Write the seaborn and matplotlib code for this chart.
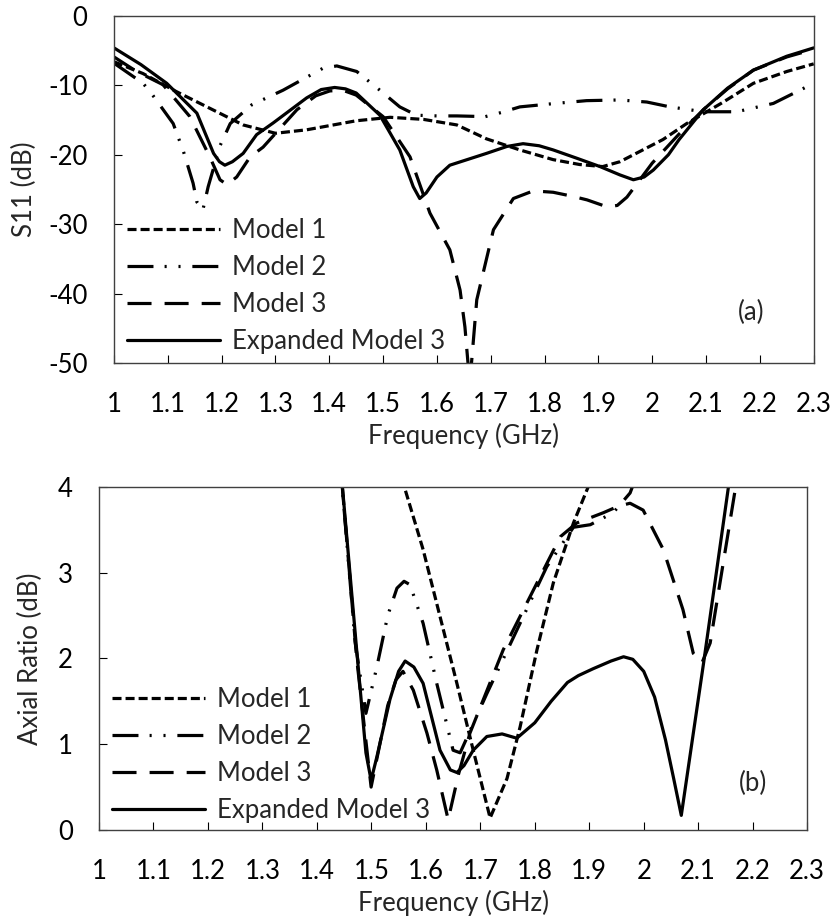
import matplotlib
matplotlib.use("Agg")
import matplotlib.pyplot as plt
import pandas as pd
import seaborn as sns

# ---- S11 data (top panel) ----
f_m1_s11 = [1.0, 1.054, 1.116, 1.178, 1.24, 1.30, 1.358, 1.45, 1.513, 1.575, 1.637, 1.692, 1.754,
            1.816, 1.865, 1.908, 1.94, 1.97, 2.02, 2.064, 2.13, 2.188, 2.25, 2.3]
s11_m1 = [-6.6, -8.3, -10.9, -13.3, -15.7, -16.9, -16.4, -15.1, -14.6, -14.9, -15.7, -17.7, -19.3,
          -20.7, -21.4, -21.7, -21.0, -19.8, -17.8, -15.5, -12.5, -9.7, -8.0, -6.9]

f_m2_s11 = [1.0, 1.054, 1.07, 1.11, 1.129, 1.147, 1.154, 1.165, 1.175, 1.197, 1.216, 1.256, 1.314,
            1.389, 1.414, 1.451, 1.494, 1.531, 1.562, 1.60, 1.637, 1.69, 1.72, 1.754, 1.82, 1.878,
            1.94, 1.99, 2.033, 2.095, 2.157, 2.225, 2.3]
s11_m2 = [-6.8, -9.7, -11.2, -15.5, -19.5, -24.1, -26.8, -28.0, -24.6, -18.7, -15.5, -12.8, -10.7,
          -7.5, -7.2, -8.0, -10.7, -13.1, -14.3, -14.4, -14.4, -14.5, -13.9, -13.1, -12.6, -12.2,
          -12.1, -12.4, -13.1, -13.8, -13.8, -12.6, -9.7]

f_m3_s11 = [1.0, 1.042, 1.091, 1.141, 1.178, 1.197, 1.21, 1.228, 1.253, 1.277, 1.34, 1.375, 1.401,
            1.425, 1.45, 1.50, 1.55, 1.587, 1.624, 1.643, 1.652, 1.661, 1.674, 1.693, 1.705, 1.742,
            1.779, 1.816, 1.853, 1.879, 1.916, 1.935, 1.953, 2.0, 2.05, 2.095, 2.14, 2.188, 2.25, 2.3]
s11_m3 = [-5.9, -8.0, -9.9, -14.5, -20.3, -23.6, -24.3, -23.2, -20.3, -18.9, -13.5, -11.5, -10.8,
          -10.7, -11.4, -14.5, -20.3, -28.4, -33.7, -39.5, -44.8, -53.0, -40.9, -34.7, -30.8, -26.3,
          -25.2, -25.4, -26.0, -26.5, -27.5, -27.3, -26.1, -21.2, -17.0, -13.5, -10.5, -7.8, -5.9, -4.8]

f_ex_s11 = [1.0, 1.05, 1.098, 1.154, 1.185, 1.196, 1.206, 1.22, 1.24, 1.265, 1.296, 1.358, 1.385,
            1.41, 1.43, 1.45, 1.494, 1.531, 1.556, 1.568, 1.58, 1.60, 1.624, 1.66, 1.692, 1.73,
            1.76, 1.79, 1.816, 1.86, 1.903, 1.94, 1.965, 1.985, 2.002, 2.03, 2.05, 2.095, 2.14,
            2.188, 2.25, 2.3]
s11_ex = [-4.6, -7.0, -9.7, -14.0, -19.8, -21.0, -21.5, -21.0, -19.8, -17.1, -15.4, -11.8, -10.6,
          -10.3, -10.5, -11.1, -14.3, -19.3, -24.6, -26.3, -25.5, -23.2, -21.5, -20.6, -19.8, -18.8,
          -18.4, -18.7, -19.3, -20.5, -21.7, -22.9, -23.6, -23.2, -22.2, -20.0, -17.8, -13.5, -10.4,
          -7.8, -5.8, -4.6]

# ---- Axial ratio data (bottom panel) ----
f_m1_ar = [1.555, 1.562, 1.595, 1.657, 1.687, 1.718, 1.749, 1.773, 1.804, 1.834, 1.871, 1.898, 1.902]
ar_m1 = [4.1, 3.97, 3.27, 1.71, 0.93, 0.14, 0.6, 1.2, 2.1, 2.88, 3.58, 4.0, 4.1]

f_m2_ar = [1.44, 1.47, 1.49, 1.51, 1.53, 1.547, 1.56, 1.571, 1.595, 1.62, 1.65, 1.663, 1.712, 1.773,
           1.822, 1.871, 1.902, 1.944, 1.975, 1.985]
ar_m2 = [4.5, 2.2, 1.36, 1.9, 2.5, 2.82, 2.9, 2.86, 2.41, 1.71, 0.93, 0.9, 1.59, 2.41,
         3.07, 3.53, 3.56, 3.7, 3.93, 4.1]

f_m3_ar = [1.44, 1.473, 1.4995, 1.53, 1.545, 1.558, 1.577, 1.602, 1.62, 1.641, 1.66, 1.681, 1.742,
           1.804, 1.847, 1.877, 1.926, 1.955, 1.975, 1.999, 2.036, 2.072, 2.091, 2.107, 2.122, 2.14,
           2.168, 2.175]
ar_m3 = [4.5, 2.0, 0.5, 1.45, 1.75, 1.85, 1.63, 1.13, 0.7, 0.12, 0.65, 1.13, 2.1,
         2.88, 3.42, 3.58, 3.7, 3.78, 3.81, 3.73, 3.27, 2.57, 2.06, 1.95, 2.18, 2.88,
         3.97, 4.3]

f_ex_ar = [1.44, 1.473, 1.49, 1.4995, 1.51, 1.534, 1.55, 1.562, 1.578, 1.595, 1.626, 1.645, 1.657,
           1.67, 1.687, 1.712, 1.74, 1.767, 1.80, 1.83, 1.86, 1.88, 1.907, 1.94, 1.963, 1.98, 2.0,
           2.02, 2.04, 2.055, 2.069, 2.11, 2.16]
ar_ex = [4.5, 2.1, 0.9, 0.58, 0.85, 1.52, 1.85, 1.97, 1.9, 1.71, 0.93, 0.7, 0.67,
         0.75, 0.93, 1.09, 1.12, 1.07, 1.25, 1.5, 1.72, 1.8, 1.88, 1.97, 2.02, 1.99, 1.85,
         1.55, 1.05, 0.6, 0.17, 1.95, 4.2]

models = ["Model 1", "Model 2", "Model 3", "Expanded Model 3"]
x_ticks = [1.0, 1.1, 1.2, 1.3, 1.4, 1.5, 1.6, 1.7, 1.8, 1.9, 2.0, 2.1, 2.2, 2.3]
x_ticklabels = ["1", "1.1", "1.2", "1.3", "1.4", "1.5", "1.6", "1.7", "1.8", "1.9", "2", "2.1", "2.2", "2.3"]
s11_ticks = [0, -10, -20, -30, -40, -50]
s11_ticklabels = ["0", "-10", "-20", "-30", "-40", "-50"]
ar_ticks = [0, 1, 2, 3, 4]
ar_ticklabels = ["0", "1", "2", "3", "4"]


def long_df(pairs, col):
    frames = []
    for name, (f, v) in zip(models, pairs):
        frames.append(pd.DataFrame({"Frequency": f, col: v, "Model": name}))
    return pd.concat(frames, ignore_index=True)


df_s11 = long_df([(f_m1_s11, s11_m1), (f_m2_s11, s11_m2), (f_m3_s11, s11_m3), (f_ex_s11, s11_ex)], "S11")
df_ar = long_df([(f_m1_ar, ar_m1), (f_m2_ar, ar_m2), (f_m3_ar, ar_m3), (f_ex_ar, ar_ex)], "AR")

sns.set_style("white")
plt.rcParams["font.family"] = ["Lato", "DejaVu Sans"]
plt.rcParams["lines.scale_dashes"] = False
plt.rcParams["axes.unicode_minus"] = False

fs = 18.5
dash_map = {
    "Model 1": (6.5, 2.9),
    "Model 2": (18.7, 8.0, 1.5, 8.5, 1.5, 8.5),
    "Model 3": (17.3, 9.4),
    "Expanded Model 3": "",
}

fig = plt.figure(figsize=(8.35, 9.23), dpi=100)
ax1 = fig.add_axes([0.1365, 0.6067, 0.838, 0.376])
ax2 = fig.add_axes([0.1186, 0.1008, 0.848, 0.3716])

sns.lineplot(data=df_s11, x="Frequency", y="S11", style="Model", style_order=models,
             dashes=dash_map, color="black", lw=2.3, estimator=None, sort=False, ax=ax1)
sns.lineplot(data=df_ar, x="Frequency", y="AR", style="Model", style_order=models,
             dashes=dash_map, color="black", lw=2.3, estimator=None, sort=False, ax=ax2)

for ax, yt, ytl, ylim in [(ax1, s11_ticks, s11_ticklabels, (-50, 0)),
                          (ax2, ar_ticks, ar_ticklabels, (0, 4))]:
    ax.set_xlim(1.0, 2.3)
    ax.set_ylim(*ylim)
    ax.set_xticks(x_ticks, labels=x_ticklabels)
    ax.set_yticks(yt, labels=ytl)
    ax.tick_params(direction="in", length=6, width=0.8, labelsize=fs,
                   colors="black", left=True, bottom=True)
    ax.tick_params(axis="x", pad=21)
    ax.tick_params(axis="y", pad=19)
    for sp in ax.spines.values():
        sp.set_color("#404040")
        sp.set_linewidth(1.0)
    ax.set_xlabel("Frequency (GHz)", fontsize=fs)

ax1.set_ylabel("S11 (dB)", fontsize=fs)
ax2.set_ylabel("Axial Ratio (dB)", fontsize=fs)
ax1.yaxis.set_label_coords(-0.11, 0.5)
ax2.yaxis.set_label_coords(-0.079, 0.5)
ax1.xaxis.set_label_coords(0.5, -0.173)
ax2.xaxis.set_label_coords(0.5, -0.175)

legend_kw = dict(frameon=False, title=None, fontsize=fs, handlelength=3.62,
                 handletextpad=0.47, labelspacing=0.47, borderpad=0, borderaxespad=0)
sns.move_legend(ax1, "lower left", bbox_to_anchor=(0.0186, 0.025), **legend_kw)
sns.move_legend(ax2, "lower left", bbox_to_anchor=(0.018, 0.02), **legend_kw)

ax1.text(0.911, 0.147, "(a)", transform=ax1.transAxes, fontsize=fs, ha="center", va="center")
ax2.text(0.924, 0.137, "(b)", transform=ax2.transAxes, fontsize=fs, ha="center", va="center")

fig.savefig("out.png", dpi=100)
